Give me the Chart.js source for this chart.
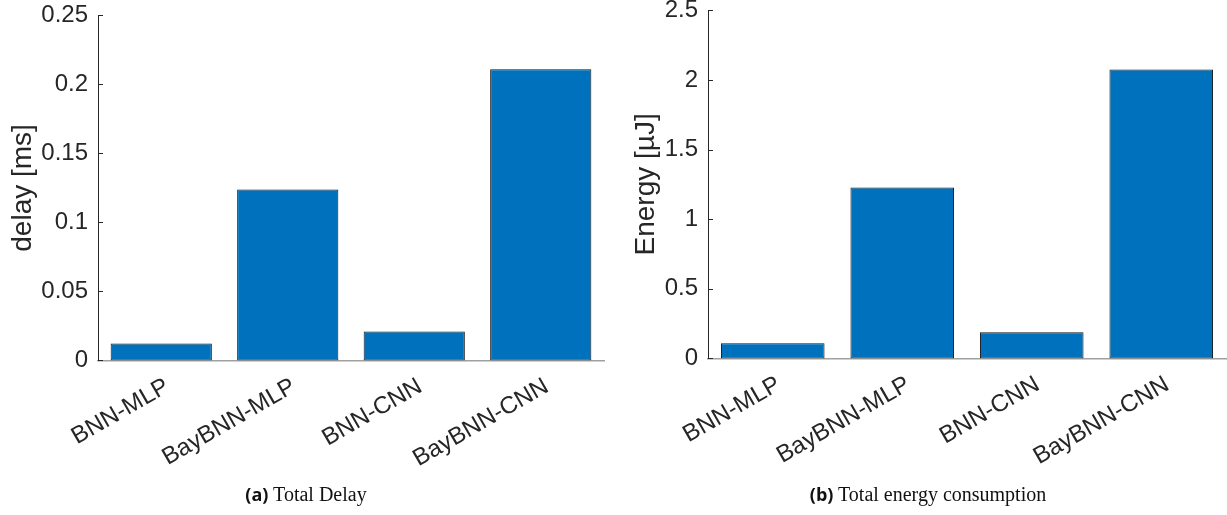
<!DOCTYPE html>
<html>
<head>
<meta charset="utf-8">
<script src="https://cdn.jsdelivr.net/npm/chart.js@4.4.1/dist/chart.umd.min.js"></script>
<style>
  html, body { margin: 0; padding: 0; background: #fff; }
  body { width: 1227px; height: 515px; position: relative; overflow: hidden; }
  .panel { position: absolute; top: 0; }
  .caption {
    position: absolute; top: 482px; font-family: "Liberation Serif", "DejaVu Serif", serif;
    font-size: 20px; color: #111; white-space: nowrap; transform: translateX(-50%);
  }
  .caption b { font-family: "Open Sans", "Liberation Sans", sans-serif; font-weight: 700; font-size: 18px; }
</style>
</head>
<body>
<div class="panel" id="delayPanel" style="left:0px"><canvas id="delayChart" width="613" height="500"></canvas></div>
<div class="panel" id="energyPanel" style="left:613px"><canvas id="energyChart" width="614" height="500"></canvas></div>
<div class="caption" style="left:306px"><b>(a)</b> Total Delay</div>
<div class="caption" style="left:928px"><b>(b)</b> Total energy consumption</div>
<script>
// Network variants shared by both panels
const categories = ['BNN-MLP', 'BayBNN-MLP', 'BNN-CNN', 'BayBNN-CNN'];

// Total delay per network, in ms
const delayValues = [0.0123, 0.1239, 0.0210, 0.2109];
const delayTicks = [0, 0.05, 0.1, 0.15, 0.2, 0.25];
const delayTickLabels = ['0', '0.05', '0.1', '0.15', '0.2', '0.25'];

// Total energy per network, in µJ
const energyValues = [0.108, 1.228, 0.187, 2.076];
const energyTicks = [0, 0.5, 1, 1.5, 2, 2.5];
const energyTickLabels = ['0', '0.5', '1', '1.5', '2', '2.5'];

const AXIS_COLOR = '#262626';
const BAR_COLOR = '#0072BD';
const SANS = '"Liberation Sans", Arial, sans-serif';

// Short tick marks drawn inside the plot area along the value axis
const innerTicks = {
  id: 'innerTicks',
  afterDatasetsDraw(chart) {
    const { ctx, chartArea, scales } = chart;
    const y = scales.y;
    ctx.save();
    ctx.strokeStyle = AXIS_COLOR;
    ctx.lineWidth = 1;
    y.ticks.forEach(t => {
      const py = Math.round(y.getPixelForValue(t.value)) + 0.5;
      ctx.beginPath();
      ctx.moveTo(chartArea.left, py);
      ctx.lineTo(chartArea.left + 5, py);
      ctx.stroke();
    });
    ctx.restore();
  }
};

// panel: wrapper element; plotTop/plotBottom: page y of the value axis ends
function makeChart(panelId, canvasId, values, ticks, tickLabels, maxVal, title, yWidth, padRight, plotTop, plotBottom, titlePad) {
  const panel = document.getElementById(panelId);
  const canvas = document.getElementById(canvasId);
  const state = { shift: 0 };
  const chart = new Chart(canvas, {
    type: 'bar',
    data: {
      labels: categories,
      datasets: [{
        data: values,
        backgroundColor: BAR_COLOR,
        borderColor: '#151515',
        borderWidth: 1,
        borderSkipped: false,
        categoryPercentage: 1.0,
        barPercentage: 0.8
      }]
    },
    options: {
      responsive: false,
      animation: false,
      devicePixelRatio: 1,
      layout: { padding: { left: 0, right: padRight, top: 0, bottom: 0 } },
      plugins: { legend: { display: false }, tooltip: { enabled: false } },
      scales: {
        x: {
          offset: true,
          grid: { display: false, drawTicks: false },
          border: { display: true, color: '#a0a0a0', width: 1.5 },
          ticks: {
            color: AXIS_COLOR,
            font: { family: SANS, size: 24 },
            minRotation: 30, maxRotation: 30, padding: 12, labelOffset: 6, autoSkip: false
          },
          afterFit(scale) { scale.height = canvas.height - (plotBottom - state.shift); }
        },
        y: {
          min: 0, max: maxVal,
          grid: { display: false, drawTicks: false },
          border: { display: true, color: AXIS_COLOR, width: 1 },
          afterBuildTicks(scale) { scale.ticks = ticks.map(v => ({ value: v })); },
          ticks: {
            color: AXIS_COLOR,
            padding: 10,
            font: { family: SANS, size: 24 },
            callback(value) {
              const i = ticks.indexOf(value);
              return i >= 0 ? tickLabels[i] : '';
            }
          },
          title: {
            display: true, text: title, color: AXIS_COLOR,
            font: { family: SANS, size: 28 },
            padding: { top: titlePad, bottom: 0 }
          },
          afterFit(scale) { scale.width = yWidth; }
        }
      }
    },
    plugins: [innerTicks]
  });
  // Place the canvas so the value axis runs from plotTop to plotBottom on the page
  state.shift = plotTop - chart.chartArea.top;
  panel.style.top = state.shift + 'px';
  chart.update();
  return chart;
}

makeChart('delayPanel', 'delayChart', delayValues, delayTicks, delayTickLabels, 0.25, 'delay [ms]', 98, 9, 15, 360, 6);
makeChart('energyPanel', 'energyChart', energyValues, energyTicks, energyTickLabels, 2.5, 'Energy [µJ]', 95, 1, 10, 358, 16);
</script>
</body>
</html>
